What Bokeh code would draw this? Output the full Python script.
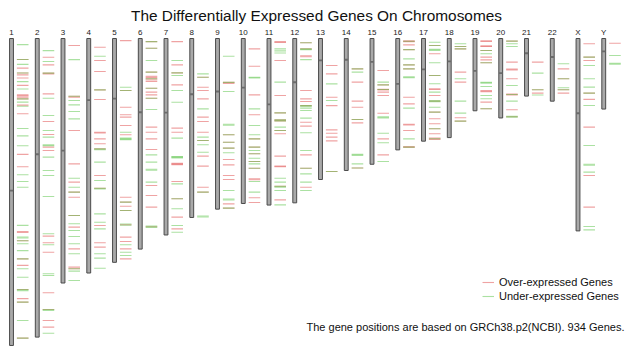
from bokeh.plotting import figure
from bokeh.models import Range1d, Label, Legend, LegendItem, ColumnDataSource
from bokeh.core.properties import value
from bokeh.embed import file_html
from bokeh.resources import INLINE

# ---------------- data ----------------
CHROMS = ["1", "2", "3", "4", "5", "6", "7", "8", "9", "10", "11", "12",
          "13", "14", "15", "16", "17", "18", "19", "20", "21", "22", "X", "Y"]
LENGTHS_MB = [248.96, 242.19, 198.30, 190.21, 181.54, 170.81, 159.35, 145.14,
              138.39, 133.80, 135.09, 133.28, 114.36, 107.04, 101.99, 90.34,
              83.26, 80.37, 58.62, 64.44, 46.71, 50.82, 156.04, 57.23]
CENTROMERES_MB = [123.4, 93.9, 90.9, 50.0, 48.8, 59.8, 60.1, 45.2, 43.0, 39.8,
                  53.4, 35.5, 17.7, 17.2, 19.0, 36.8, 25.1, 18.5, 26.2, 28.1,
                  12.0, 15.0, 60.6, 10.4]

# over-expressed (red) gene positions, Mb
up_1 = [17, 24, 28, 29.5, 32, 38, 45.7, 46.5, 47.6, 49, 54, 61, 94, 104, 156.5, 157.3,
        164, 178.7, 184, 203.6, 211, 213.8, 243]
up_2 = [15.2, 21.4, 28.1, 28.8, 44.9, 67.3, 77.9, 88.1, 90.8, 160.3, 165.7, 173.3,
        206.2, 219.8, 228.7, 234.1]
up_3 = [5.7, 46.8, 47.6, 74.6, 101.7, 116.5, 124.6, 128.7, 143.5, 153, 170.6, 185.4, 186.8]
up_4 = [7.1, 17.9, 26.8, 41.7, 49.5, 76, 76.6, 81.4, 85.4, 89.5, 111.1, 121.4, 151.7,
        165.7, 169.2]
up_5 = [1.7, 42.2, 55.7, 61.9, 63.8, 70.6, 78.1, 128.7, 132.7, 136, 139.5, 151.1, 161.1,
        164.6, 170.6, 178.7]
up_6 = [2.5, 7.9, 27.3, 30.6, 31.5, 32.7, 33.6, 34.9, 40.3, 43.5, 45.7, 48.4, 71.9, 76,
        81.4, 90, 119.2, 127.3, 136.8, 152.7]
up_7 = [2.5, 21.4, 27.9, 37.6, 72.7, 76, 101.2, 101.7, 102.3, 116, 130, 144.9, 154.4]
up_8 = [31.4, 39.5, 42.2, 49, 63.8, 67.3, 76, 82.7, 95.4, 103.5, 120.6, 124.6]
up_9 = [35.6, 36.4, 78.1, 84.1, 88.9, 98.1, 102.5, 111.1, 114.4, 134.1, 137.6]
up_10 = [8.4, 22.5, 45.7, 61.9, 81.4, 88.1, 93.5, 99.8, 105.2, 113.8, 114.6, 129.2, 133]
up_11 = [2.5, 3.2, 17.9, 46.2, 60.3, 66, 66.8, 74.6, 77.3, 95.4, 103.5, 104, 119.8, 130.9]
up_12 = [3.5, 8.4, 14, 14.8, 42.2, 49, 51.1, 54.4, 67.9, 71.1, 94.4, 105.2, 120.6]
up_13 = [21.9, 28.7, 47.6, 54.4, 74.1, 76.8, 80, 83, 107.9]
up_14 = [24.6, 35.4, 50.8, 55.7, 65.7, 68.4, 105]
up_15 = [26, 37.6, 41.1, 41.7, 43.5, 46.2, 60.6, 81.4, 94.4]
up_16 = [1.9, 2.5, 5.2, 9, 21.4, 24.6, 47.6, 53, 69.5, 70.1, 74.6, 87.6, 88.4]
up_17 = [5.7, 12.4, 30, 40.8, 41.4, 46.2, 50.8, 59.7, 65.1, 69.2, 73.2, 77.3, 80.8, 81.8]
up_18 = [6.5, 8.4, 27.3, 35.4, 64.3, 67]
up_19 = [1.8, 2.4, 6, 6.5, 9.7, 15.1, 17.3, 19.7, 42.3, 43.1, 51.6, 57]
up_20 = [2.1, 19.2, 24.8, 25.5, 32.7, 45.1, 45.8, 57.8, 63.5]
up_21 = [19.2, 41.6, 44.3]
up_22 = [24.6, 32.7, 41.6, 44.3]
up_X = [4.3, 15.1, 17.8, 44.3, 49.4, 71.9, 111.1, 136.8]
up_Y = [3.8]

# under-expressed (green) gene positions, Mb
dn_1 = [5, 17, 21, 28, 35, 41, 49, 51.6, 55, 73, 79, 87, 110.5, 116, 120.6, 151.6, 161,
        161.8, 164, 166.5, 172, 178.7, 186.7, 193.6, 203.6, 204.5, 213.8, 228.7, 243]
dn_2 = [9.8, 18.7, 28.1, 48.4, 62.5, 74.6, 80, 86.2, 86.9, 96.2, 107, 111.1, 128.1, 158.4,
        167.3, 190.8, 192.2, 219.8, 220.6, 239]
dn_3 = [17.1, 46.8, 50.3, 53.8, 59.2, 65.2, 113.3, 120.6, 124.6, 143.5, 150.3, 155.7,
        160.6, 166.5, 174.6, 186.8, 188.7, 196.3]
dn_4 = [14.4, 41.7, 89.5, 90.2, 100.3, 115.2, 121.4, 122, 142.2, 149, 154.4, 174.6,
        178.1, 186.3]
dn_5 = [39.5, 42.2, 76, 80.8, 81.4, 82, 132.7, 139.5, 150.5, 151.5, 167.3, 173.3, 176]
dn_6 = [2.5, 7.9, 17.9, 27.3, 32.7, 40.3, 48.4, 57.6, 94.4, 100.3, 106, 106.8, 116.5,
        152.2, 153.2]
dn_7 = [17.9, 27.9, 30, 42.2, 51.7, 80.8, 95.8, 96.2, 96.8, 117.9, 130, 138.1, 151.7, 157.1]
dn_8 = [28.7, 31.4, 57.1, 80, 82.7, 86.2, 92.2, 124.6, 144, 144.8]
dn_9 = [14.4, 35.6, 43, 69.6, 70.4, 78.1, 84.1, 88.9, 92.7, 123.3, 130.2, 131, 137.6]
dn_10 = [31.4, 31.9, 57.1, 70.6, 78.1, 81.4, 88.1, 90.8, 93.5, 97.1, 99.8, 101.7, 105.2,
         116, 124.6]
dn_11 = [8.4, 10, 11.7, 35.4, 60.3, 66, 66.8, 71.9, 74.6, 113.3, 116.5, 119.8, 120.5,
         123.3, 134.9]
dn_12 = [3.5, 8.4, 9, 17.1, 54.4, 55, 56.5, 58.4, 64.6, 76.5, 90.8, 105.2, 109.8, 116.5,
         123.3]
dn_13 = [36.8, 50.3, 107.9]
dn_14 = [24.6, 27.3, 65.7, 94, 94.8, 101.7, 105]
dn_15 = [35.4, 37.6, 41.4, 63.6, 64.4, 76.8, 84.6, 99.8]
dn_16 = [2.2, 9, 16.5, 21.4, 24.6, 31, 31.7, 56.5, 81.4, 88.1]
dn_17 = [3, 5.7, 8.8, 9.6, 19.7, 30, 36.7, 43.5, 50.4, 51.2, 55.7, 59.7, 73.2, 81.3]
dn_18 = [4.3, 6.5, 8.4, 32.7, 50.8, 60.5, 67]
dn_19 = [9.7, 12.4, 19.7, 35.6, 36.2, 38.9, 46.2, 48.9, 57]
dn_20 = [2.1, 4.3, 6.5, 38.1, 45.4, 50.8, 63, 63.8]
dn_21 = [28.1, 41.6, 45.8]
dn_22 = [20.5, 32.7, 40, 41.6]
dn_X = [15.1, 21.9, 32.7, 39.4, 44.3, 54.3, 86.8, 102, 102.8, 108.4, 152.5, 155.2]
dn_Y = [13.8, 20.1, 20.8]

OVER = [up_1, up_2, up_3, up_4, up_5, up_6, up_7, up_8, up_9, up_10, up_11, up_12,
        up_13, up_14, up_15, up_16, up_17, up_18, up_19, up_20, up_21, up_22, up_X, up_Y]
UNDER = [dn_1, dn_2, dn_3, dn_4, dn_5, dn_6, dn_7, dn_8, dn_9, dn_10, dn_11, dn_12,
         dn_13, dn_14, dn_15, dn_16, dn_17, dn_18, dn_19, dn_20, dn_21, dn_22, dn_X, dn_Y]

TITLE = "The Differentially Expressed Genes On Chromosomes"
FOOTNOTE = "The gene positions are based on GRCh38.p2(NCBI). 934 Genes."
LEGEND_LABELS = ["Over-expressed Genes", "Under-expressed Genes"]

RED = "#e04848"
GREEN = "#58c446"
FONT = "Liberation Sans"

# ---------------- figure ----------------
W, H = 640, 353
PX_PER_CHR = 25.75
X0 = 11.0
TOP_PX = 38.0
PX_PER_MB = 1.233

p = figure(width=W, height=H, output_backend="svg", toolbar_location=None,
           x_range=Range1d(-X0 / PX_PER_CHR, (W - X0) / PX_PER_CHR),
           y_range=Range1d((H - TOP_PX) / PX_PER_MB, -TOP_PX / PX_PER_MB),
           min_border=0, outline_line_color=None, background_fill_color="white",
           border_fill_color="white")
p.axis.visible = False
p.xgrid.visible = False
p.ygrid.visible = False

idx = list(range(len(CHROMS)))

# gene marks
def marks(lists):
    x0, x1, y = [], [], []
    for i, lst in enumerate(lists):
        for v in lst:
            x0.append(i + 0.21)
            x1.append(i + 0.66)
            y.append(v)
    return ColumnDataSource(dict(x0=x0, x1=x1, y0=y, y1=y))

r_over = p.segment("x0", "y0", "x1", "y1", source=marks(OVER), line_color=RED,
                   line_alpha=0.5, line_width=1.1)
r_under = p.segment("x0", "y0", "x1", "y1", source=marks(UNDER), line_color=GREEN,
                    line_alpha=0.5, line_width=1.1)

# chromosome bars
p.quad(left=[i - 0.075 for i in idx], right=[i + 0.075 for i in idx],
       top=[0] * len(idx), bottom=LENGTHS_MB,
       fill_color="#a9a9a9", line_color="#4a4a4a", line_width=1)
# centromeres
p.rect(x=idx, y=CENTROMERES_MB, width=0.13, height=1.5,
       fill_color="#6a6a6a", line_color=None)

# chromosome labels
p.text(x=idx, y=[-5.0] * len(idx), text=CHROMS, text_align="center",
       text_baseline="middle", text_font=value(FONT), text_font_size="8px",
       text_color="#222222")

# title & footnote
p.add_layout(Label(x=316, y=H - 15, x_units="screen", y_units="screen", text=TITLE,
                   text_align="center", text_baseline="middle", text_font=FONT,
                   text_font_size="15.4px", text_color="#111111"))
p.add_layout(Label(x=306, y=H - 326, x_units="screen", y_units="screen", text=FOOTNOTE,
                   text_align="left", text_baseline="middle", text_font=FONT,
                   text_font_size="11px", text_color="#111111"))

legend = Legend(items=[LegendItem(label=LEGEND_LABELS[0], renderers=[r_over]),
                       LegendItem(label=LEGEND_LABELS[1], renderers=[r_under])],
                location=(482, H - 303), orientation="vertical",
                glyph_width=12, glyph_height=14, label_height=14, spacing=0,
                padding=0, margin=0, label_standoff=5,
                label_text_font=FONT, label_text_font_size="11px",
                label_text_color="#111111",
                background_fill_alpha=0, border_line_color=None)
p.add_layout(legend)

open("out.html", "w").write(file_html(p, INLINE))
